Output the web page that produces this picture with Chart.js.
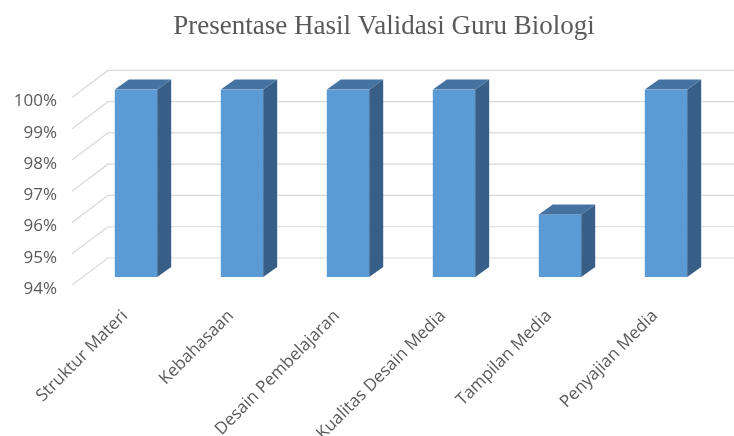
<!DOCTYPE html>
<html>
<head>
<meta charset="utf-8">
<script src="https://cdn.jsdelivr.net/npm/chart.js@4"></script>
<style>
  html, body { margin: 0; padding: 0; background: #fff; }
  #clip { width: 734px; height: 436px; overflow: hidden; }
  #wrap { width: 768px; height: 436px; }
</style>
</head>
<body>
<div id="clip"><div id="wrap"><canvas id="myChart"></canvas></div></div>
<script>
var categories = ["Struktur Materi", "Kebahasaan", "Desain Pembelajaran", "Kualitas Desain Media", "Tampilan Media", "Penyajian Media"];
var values = [100, 100, 100, 100, 96, 100];
var yTicks = [94, 95, 96, 97, 98, 99, 100];

// fake 3d: walls + bar sides
var depth = { dx: 14, dy: 10 };
var wall = { dx: 36, dy: 27, front: 11, frontY: 8 };

var grid3d = {
  id: 'grid3d',
  beforeDatasetsDraw(chart) {
    const ctx = chart.ctx;
    const y = chart.scales.y;
    const left = chart.chartArea.left - wall.front;
    ctx.save();
    ctx.strokeStyle = '#d9d9d9';
    ctx.lineWidth = 1.2;
    yTicks.forEach(v => {
      const py = y.getPixelForValue(v) + wall.frontY;
      ctx.beginPath();
      ctx.moveTo(left, py);
      ctx.lineTo(left + wall.dx, py - wall.dy);
      ctx.lineTo(chart.width, py - wall.dy);
      ctx.stroke();
    });
    ctx.restore();
  }
};

var bar3d = {
  id: 'bar3d',
  afterDatasetsDraw(chart) {
    const ctx = chart.ctx;
    const meta = chart.getDatasetMeta(0);
    ctx.save();
    meta.data.forEach(bar => {
      const l = bar.x - bar.width / 2, r = bar.x + bar.width / 2;
      const t = bar.y, b = bar.base;
      ctx.fillStyle = '#385f88';
      ctx.beginPath();
      ctx.moveTo(r, t);
      ctx.lineTo(r + depth.dx, t - depth.dy);
      ctx.lineTo(r + depth.dx, b - depth.dy);
      ctx.lineTo(r, b);
      ctx.closePath();
      ctx.fill();
      ctx.fillStyle = '#4473a1';
      ctx.beginPath();
      ctx.moveTo(l, t);
      ctx.lineTo(l + depth.dx, t - depth.dy);
      ctx.lineTo(r + depth.dx, t - depth.dy);
      ctx.lineTo(r, t);
      ctx.closePath();
      ctx.fill();
    });
    ctx.restore();
  }
};

const ctx = document.getElementById('myChart');

new Chart(ctx, {
  type: 'bar',
  data: {
    labels: categories,
    datasets: [{
      data: values,
      base: yTicks[0],
      backgroundColor: '#5b9bd5',
      borderWidth: 0,
      barPercentage: 0.4,
      categoryPercentage: 1
    }]
  },
  options: {
    responsive: true,
    maintainAspectRatio: false,
    animation: false,
    layout: { padding: 0 },
    plugins: {
      legend: { display: false },
      tooltip: { enabled: false },
      title: {
        display: true,
        text: 'Presentase Hasil Validasi Guru Biologi',
        color: '#595959',
        font: { family: 'Liberation Serif', size: 27, weight: 'normal', lineHeight: 1.2 },
        padding: { top: 11, bottom: 46 }
      }
    },
    scales: {
      x: {
        grid: { display: false, drawTicks: false },
        border: { display: false },
        afterFit(s) { s.height = 159; },
        ticks: {
          minRotation: 45,
          maxRotation: 45,
          padding: 29,
          labelOffset: -11,
          color: '#595959',
          font: { family: 'Open Sans', size: 17 }
        }
      },
      y: {
        min: 94,
        max: 100,
        grid: { display: false, drawTicks: false },
        border: { display: false },
        afterFit(s) { s.width = 83; },
        ticks: {
          stepSize: 1,
          padding: 26,
          labelOffset: 12,
          color: '#595959',
          font: { family: 'Open Sans', size: 17 },
          callback: v => v + '%'
        }
      },
      // empty right box so the plot ends at 719 while the title stays centred
      yRight: {
        type: 'linear',
        position: 'right',
        grid: { display: false, drawTicks: false },
        border: { display: false },
        ticks: { display: false },
        afterFit(s) { s.width = 49; }
      }
    }
  },
  plugins: [grid3d, bar3d]
});
</script>
</body>
</html>
